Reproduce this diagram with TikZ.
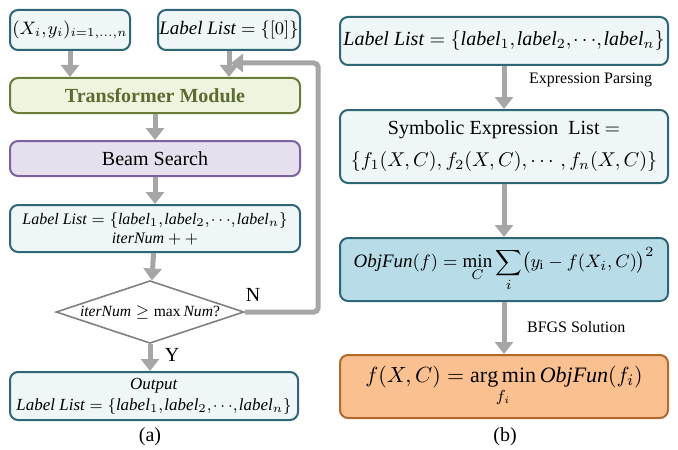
\documentclass[tikz,border=0pt]{standalone}
\usepackage{amsmath}
\usepackage{fontspec}
\setmainfont{Liberation Serif}
\usetikzlibrary{arrows.meta,shapes.geometric}

\definecolor{tealline}{HTML}{2F6677}
\definecolor{palefill}{HTML}{EEF6F8}
\definecolor{greenline}{HTML}{6A7C3A}
\definecolor{greenfill}{HTML}{EEF4E0}
\definecolor{greentext}{HTML}{5B6C2E}
\definecolor{purpleline}{HTML}{7B62A0}
\definecolor{purplefill}{HTML}{E6E0EE}
\definecolor{bluefill}{HTML}{B8DDE8}
\definecolor{orangeline}{HTML}{B4692A}
\definecolor{orangefill}{HTML}{FAC090}
\definecolor{arrowgray}{HTML}{A6A6A6}

\newcommand{\tcomma}{{,}\mskip1.5mu}
\newcommand{\lablist}{$\textit{Label List}=\{\textit{label}_1\tcomma\textit{label}_2\tcomma{\cdots}\tcomma\textit{label}_n\}$}

\begin{document}
\begin{tikzpicture}[x=0.5pt,y=-0.5pt,
    box/.style={draw=tealline, fill=palefill, line width=1pt, rounded corners=4pt, align=center, inner sep=0pt},
    flow/.style={draw=arrowgray, line width=2.5pt, -{Triangle[width=9pt,length=6pt]}},
    tag/.style={font=\fontsize{8}{9}\selectfont, anchor=west}]
  \useasboundingbox (0,0) rectangle (678,449);

  % (a)
  \node[box, minimum width=60pt, minimum height=20pt, font=\fontsize{9}{11}\selectfont] (xy) at (70,30) {$(X_i\tcomma y_i)_{i=1,\ldots,n}$};
  \node[box, minimum width=71pt, minimum height=20pt, font=\fontsize{9.5}{11}\selectfont] (lab0) at (229,30) {$\textit{Label List}=\{[0]\}$};
  \node[box, draw=greenline, fill=greenfill, minimum width=145pt, minimum height=17.5pt, font=\bfseries\fontsize{10}{12}\selectfont, text=greentext] (trans) at (155,95.5) {Transformer Module};
  \node[box, draw=purpleline, fill=purplefill, minimum width=145pt, minimum height=17.5pt] (beam) at (155,158.5) {Beam Search};
  \node[box, minimum width=145pt, minimum height=23.5pt, font=\fontsize{8}{9.5}\selectfont] (list) at (155,228.5) {\lablist\\ $\textit{iterNum}++$};
  \node[diamond, draw=gray, line width=0.8pt, aspect=3, inner sep=0.5pt, font=\fontsize{7.8}{9}\selectfont] (dec) at (150,312) {$\textit{iterNum}\geq\max\textit{Num}$?};
  \node[box, minimum width=144pt, minimum height=24pt, font=\fontsize{8.5}{10.5}\selectfont] (out) at (154,396) {\textit{Output}\\ \lablist};
  \node (capa) at (150,437) {(a)};
  \coordinate (back) at (318,63);
  \coordinate (merge) at (231,63);

  \draw[flow] (xy.south) -- (xy.south |- trans.north);
  \draw[flow] (lab0.south) -- (lab0.south |- trans.north);
  \draw[flow] (trans) -- (beam);
  \draw[flow] (beam) -- (list);
  \draw[flow] (list) -- (dec);
  \draw[flow] (dec.south) -- (dec.south |- out.north);
  \draw[flow, rounded corners=2pt] (dec.east) -- (dec.east -| back) -- (back) -- (merge);
  \node (yes) at (172,355) {Y};
  \node (no) at (253,295) {N};

  % (b)
  \node[box, minimum width=164pt, minimum height=24pt, font=\fontsize{10}{12}\selectfont] (r1) at (504,41) {\lablist};
  \node[box, minimum width=164pt, minimum height=36.5pt, font=\fontsize{10}{12}\selectfont] (r2) at (504,146.5) {Symbolic Expression\ \ List $=$\\[4pt] $\{f_1(X,C),f_2(X,C),\cdots,f_n(X,C)\}$};
  \node[box, fill=bluefill, minimum width=164pt, minimum height=31.5pt, font=\fontsize{9.5}{11}\selectfont] (r3) at (504,269.5) {$\displaystyle\textit{ObjFun}(f)=\min_{C}\sum_{i}\bigl(y_{\mathrm{i}}-f(X_i,C)\bigr)^2$};
  \node[box, draw=orangeline, fill=orangefill, minimum width=164pt, minimum height=31.5pt, font=\fontsize{11}{13}\selectfont] (r4) at (504,386.5) {$\displaystyle f(X,C)=\mathop{\arg\min}\limits_{f_i}\textit{ObjFun}(f_i)$};
  \node (capb) at (505,437) {(b)};

  \draw[flow] (r1) -- (r2);
  \draw[flow] (r2) -- (r3);
  \draw[flow] (r3) -- (r4);
  \node[tag] (parse) at (522,80) {Expression Parsing};
  \node[tag] (bfgs) at (520,327) {BFGS Solution};
\end{tikzpicture}
\end{document}
